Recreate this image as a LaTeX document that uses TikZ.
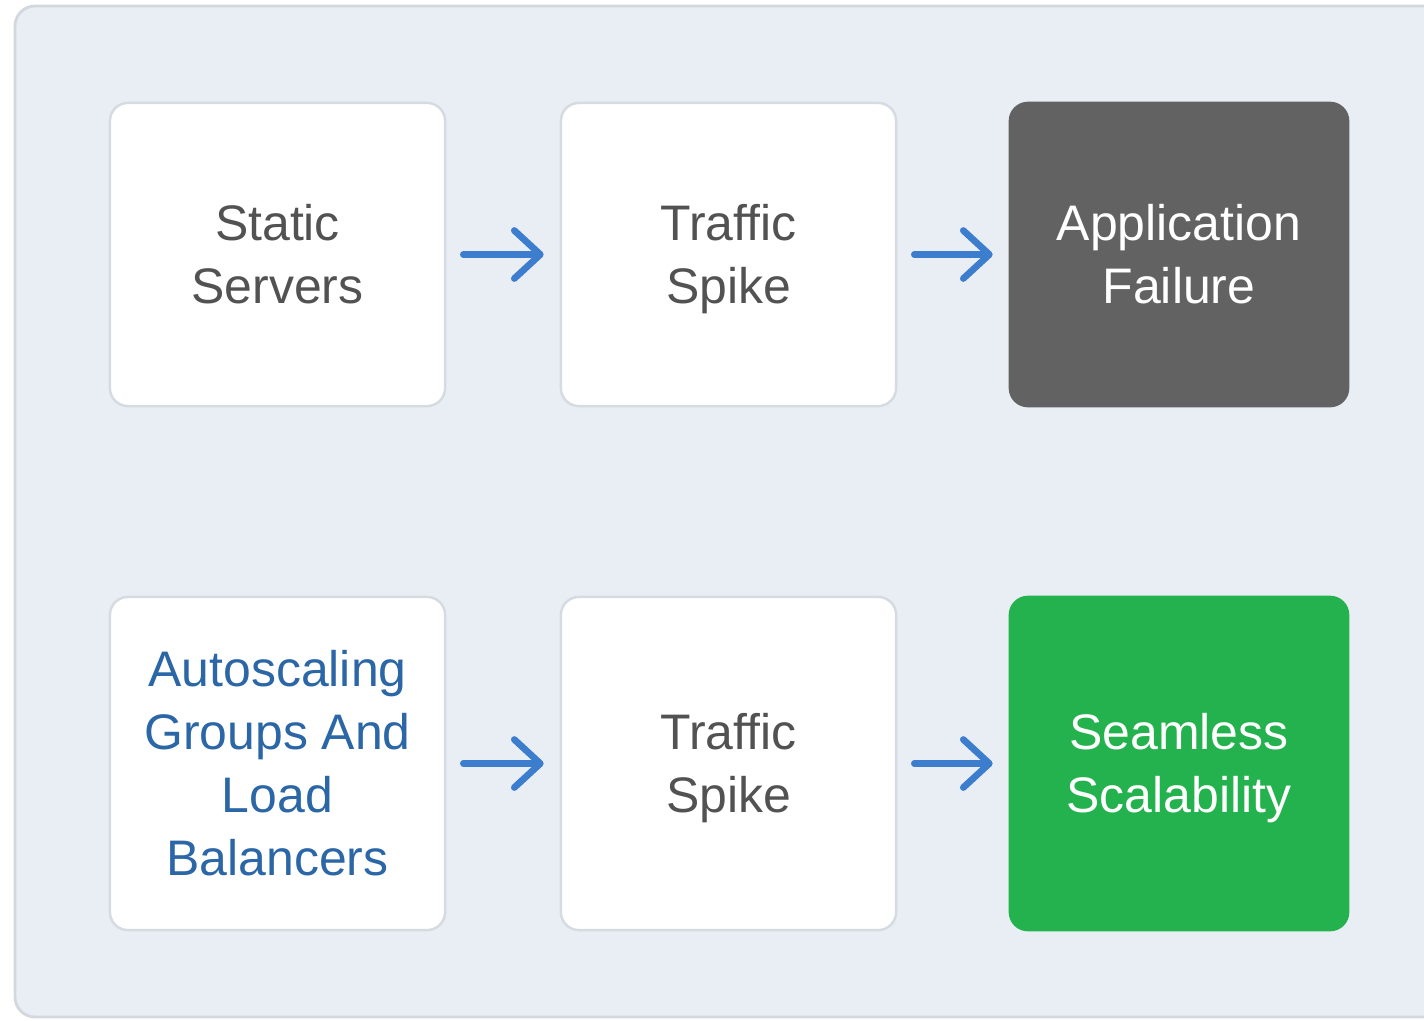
\documentclass[tikz,border=0pt]{standalone}
\usepackage{fontspec}
\setmainfont{Liberation Sans}
\usetikzlibrary{arrows.meta}

\definecolor{panelbg}{HTML}{E9EEF5}
\definecolor{panelline}{HTML}{D3D8DE}
\definecolor{boxline}{HTML}{D6DBE1}
\definecolor{labelgray}{HTML}{525252}
\definecolor{labelblue}{HTML}{2B66A6}
\definecolor{flowblue}{HTML}{3D7DCE}
\definecolor{failgray}{HTML}{626262}
\definecolor{scalegreen}{HTML}{23B24D}

\tikzset{
  stagebox/.style={draw=boxline, line width=0.7pt, fill=white, rounded corners=0.18cm,
    minimum width=3.35cm, align=center, text=labelgray, inner sep=0pt,
    font=\fontsize{14.2}{17.9}\selectfont, text height=28.07pt, text depth=0pt},
  failbox/.style={stagebox, draw=failgray, fill=failgray, text=white, minimum width=3.38cm},
  okbox/.style={stagebox, draw=scalegreen, fill=scalegreen, text=white, minimum width=3.38cm},
  flow/.style={draw=flowblue, line width=1.9pt, line cap=round,
    -{Straight Barb[length=0.26cm, width=0.48cm, line cap=round, line join=round]},
    shorten <=0.17cm, shorten >=0.16cm}
}

\begin{document}
\begin{tikzpicture}[x=0.01cm, y=-0.01cm]
  \useasboundingbox (0,0) rectangle (1424,1020);
  \fill[white] (0,0) rectangle (1424,1020);
  \draw[panelline, fill=panelbg, line width=0.8pt, rounded corners=0.2cm] (15,6) rectangle (1460,1017);

  % static setup
  \node[stagebox, minimum height=3.03cm] (static) at (277.5,254.5) {Static\\Servers};
  \node[stagebox, minimum height=3.03cm] (spikeA) at (728.5,254.5) {Traffic\\Spike};
  \node[failbox, minimum height=3.03cm] (failure) at (1179,254.5) {Application\\Failure};

  % autoscaling setup
  \node[stagebox, minimum height=3.33cm, text=labelblue, text height=63.87pt] (autoscale) at (277.5,763.5) {Autoscaling\\Groups And\\Load\\Balancers};
  \node[stagebox, minimum height=3.33cm] (spikeB) at (728.5,763.5) {Traffic\\Spike};
  \node[okbox, minimum height=3.33cm] (seamless) at (1179,763.5) {Seamless\\Scalability};

  \draw[flow] (static) -- (spikeA);
  \draw[flow] (spikeA) -- (failure);
  \draw[flow] (autoscale) -- (spikeB);
  \draw[flow] (spikeB) -- (seamless);
\end{tikzpicture}
\end{document}
